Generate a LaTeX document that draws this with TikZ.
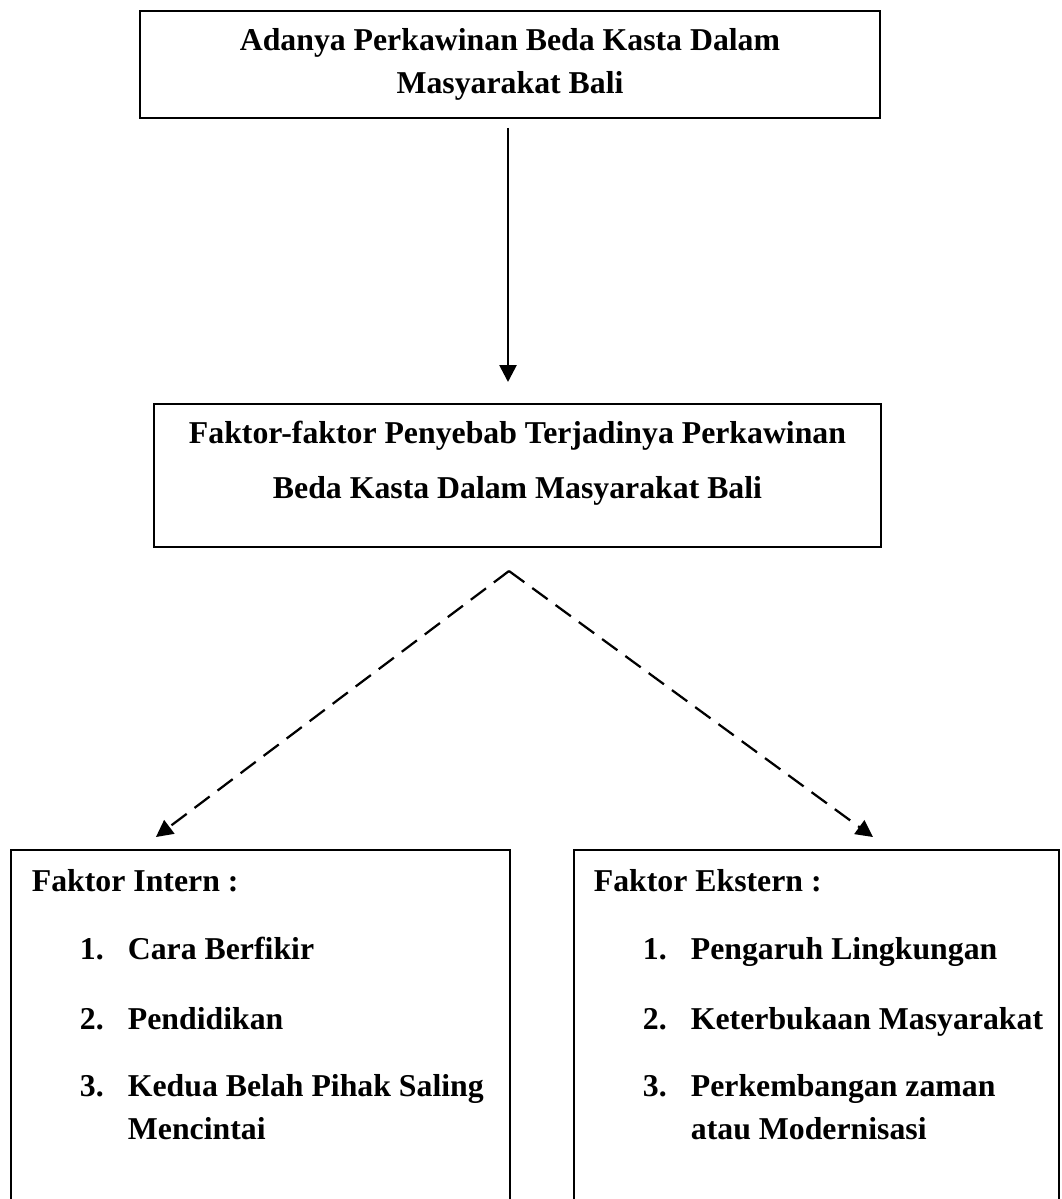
\documentclass[tikz,border=0pt]{standalone}
\usepackage{fontspec}
\setmainfont{Liberation Serif}
\usetikzlibrary{arrows.meta}
\newlength\pix
\setlength\pix{0.025cm}
\tikzset{kotak/.style={draw=black,line width=1.3pt,rectangle},
	judul/.style={kotak,font=\bfseries\fontsize{22.6pt}{30.6pt}\selectfont,
		align=flush center,text width=700\pix,minimum width=740\pix,minimum height=107\pix},
	penyebab/.style={kotak,font=\bfseries\fontsize{22.6pt}{39.1pt}\selectfont,
		align=flush center,text width=680\pix,minimum width=727\pix,
		inner ysep=18\pix,text height=22\pix,text depth=85\pix,anchor=north},
	faktor/.style={kotak,font=\bfseries\fontsize{22.6pt}{30.6pt}\selectfont,
		align=flush left,inner xsep=0pt,inner ysep=19.5\pix,anchor=north west},
	panah/.style={-{Triangle[length=12pt,width=12pt]},line width=1.9pt},
	panahputus/.style={panah,line width=1.6pt,dash pattern=on 13.5pt off 7pt}}

\begin{document}
\begin{tikzpicture}[x=0.025cm,y=-0.025cm]
	\useasboundingbox (0,0) rectangle (1061,1199);
	\clip (0,0) rectangle (1061,1199);
	
	\node[judul] (top) at (510,64.5) {Adanya Perkawinan Beda Kasta Dalam\\Masyarakat Bali};
	\node[penyebab] (mid) at (517.5,403) {Faktor-faktor Penyebab Terjadinya Perkawinan\\Beda Kasta Dalam Masyarakat Bali};
	
	\node[faktor,text width=499\pix] (intern) at (10,849) {%
		\hspace*{21\pix}Faktor Intern :\\[25\pix]
		\hspace*{69\pix}\makebox[48\pix][l]{1.}Cara Berfikir\\[27\pix]
		\hspace*{69\pix}\makebox[48\pix][l]{2.}Pendidikan\\[24\pix]
		\hspace*{69\pix}\makebox[48\pix][l]{3.}Kedua Belah Pihak Saling\\
		\hspace*{117\pix}Mencintai\\[4cm]\mbox{}};
	\node[faktor,text width=485\pix] (extern) at (573,849) {%
		\hspace*{20\pix}Faktor Ekstern :\\[25\pix]
		\hspace*{69\pix}\makebox[48\pix][l]{1.}Pengaruh Lingkungan\\[27\pix]
		\hspace*{69\pix}\makebox[48\pix][l]{2.}Keterbukaan Masyarakat\\[24\pix]
		\hspace*{69\pix}\makebox[48\pix][l]{3.}Perkembangan zaman\\
		\hspace*{117\pix}atau Modernisasi\\[4cm]\mbox{}};
	
	\coordinate (split) at (509,571);
	
	\draw[panah] ([shift={(-2,9)}]top.south) -- ([shift={(-9.5,-21)}]mid.north);
	\draw[panahputus] (split) -- ([shift={(-104.5,-12)}]intern.north);
	\draw[panahputus] (split) -- ([shift={(56.5,-12)}]extern.north);
\end{tikzpicture}
\end{document}
